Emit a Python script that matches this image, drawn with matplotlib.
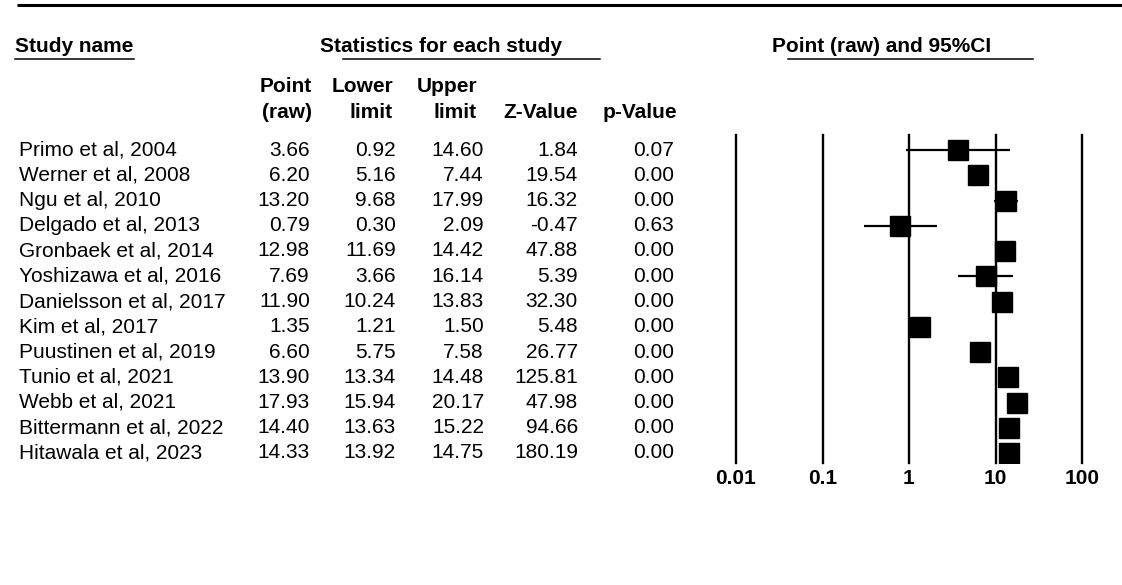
import numpy as np
import matplotlib
matplotlib.use("Agg")
import matplotlib.pyplot as plt

plt.rcParams["font.family"] = ["Liberation Sans", "DejaVu Sans"]

studies = [
    "Primo et al, 2004", "Werner et al, 2008", "Ngu et al, 2010",
    "Delgado et al, 2013", "Gronbaek et al, 2014", "Yoshizawa et al, 2016",
    "Danielsson et al, 2017", "Kim et al, 2017", "Puustinen et al, 2019",
    "Tunio et al, 2021", "Webb et al, 2021", "Bittermann et al, 2022",
    "Hitawala et al, 2023",
]
point = [3.66, 6.20, 13.20, 0.79, 12.98, 7.69, 11.90, 1.35, 6.60, 13.90, 17.93, 14.40, 14.33]
lower = [0.92, 5.16, 9.68, 0.30, 11.69, 3.66, 10.24, 1.21, 5.75, 13.34, 15.94, 13.63, 13.92]
upper = [14.60, 7.44, 17.99, 2.09, 14.42, 16.14, 13.83, 1.50, 7.58, 14.48, 20.17, 15.22, 14.75]
zval = [1.84, 19.54, 16.32, -0.47, 47.88, 5.39, 32.30, 5.48, 26.77, 125.81, 47.98, 94.66, 180.19]
pval = [0.07, 0.00, 0.00, 0.63, 0.00, 0.00, 0.00, 0.00, 0.00, 0.00, 0.00, 0.00, 0.00]
ticks = [0.01, 0.1, 1, 10, 100]
tick_labels = ["0.01", "0.1", "1", "10", "100"]

W, H = 1122, 585
ROW0, ROWH = 150, 25.25          # pixel y of first row, row spacing
FS = 15

fig = plt.figure(figsize=(W / 100, H / 100), dpi=100)

# table layer in pixel coordinates
tab = fig.add_axes([0, 0, 1, 1])
tab.set_xlim(0, W)
tab.set_ylim(H, 0)
tab.axis("off")

tab.plot([17, W], [5, 5], color="black", lw=2.2, solid_capstyle="butt")

hy = 47
tab.text(15, hy, "Study name", fontsize=FS, fontweight="bold", va="center", ha="left")
tab.plot([15, 134], [59, 59], color="black", lw=1.1)
tab.text(320, hy, "Statistics for each study", fontsize=FS, fontweight="bold",
         va="center", ha="left")
tab.plot([343, 600], [59, 59], color="black", lw=1.1)
tab.text(772, hy, "Point (raw) and 95%CI", fontsize=FS, fontweight="bold",
         va="center", ha="left")
tab.plot([788, 1033], [59, 59], color="black", lw=1.1)

# column headers
cols = [(312, "Point", "(raw)"), (393, "Lower", "limit"), (477, "Upper", "limit"),
        (578, "", "Z-Value"), (677, "", "p-Value")]
for x, l1, l2 in cols:
    if l1:
        tab.text(x, 87, l1, fontsize=FS, fontweight="bold", va="center", ha="right")
    tab.text(x, 113, l2, fontsize=FS, fontweight="bold", va="center", ha="right")

col_right = [310, 396, 484, 578, 674]
for i, name in enumerate(studies):
    y = ROW0 + ROWH * i
    tab.text(19, y, name, fontsize=FS, va="center", ha="left")
    vals = [point[i], lower[i], upper[i], zval[i], pval[i]]
    for x, v in zip(col_right, vals):
        tab.text(x, y, f"{v:.2f}", fontsize=FS, va="center", ha="right")

# forest plot
top, bot = 135, 463
left, right = 736, 1082
ax = fig.add_axes([left / W, 1 - bot / H, (right - left) / W, (bot - top) / H])
ax.set_xscale("log")
ax.set_xlim(0.01, 100)
n = len(studies)
ax.set_ylim((bot - ROW0) / ROWH, (top - ROW0) / ROWH)
ax.patch.set_visible(False)
for s in ax.spines.values():
    s.set_visible(False)
ax.set_yticks([])
ax.minorticks_off()
ax.set_xticks(ticks)
ax.set_xticklabels(tick_labels, fontsize=FS, fontweight="bold")
ax.tick_params(axis="x", length=0, pad=4)

for t in ticks:
    ax.axvline(t, color="black", lw=1.7, clip_on=False)

rows = np.arange(n)
ax.hlines(rows, lower, upper, color="black", lw=1.6)
ax.plot(point, rows, "s", color="black", markersize=14, linestyle="none")

fig.savefig("out.png", dpi=100)
